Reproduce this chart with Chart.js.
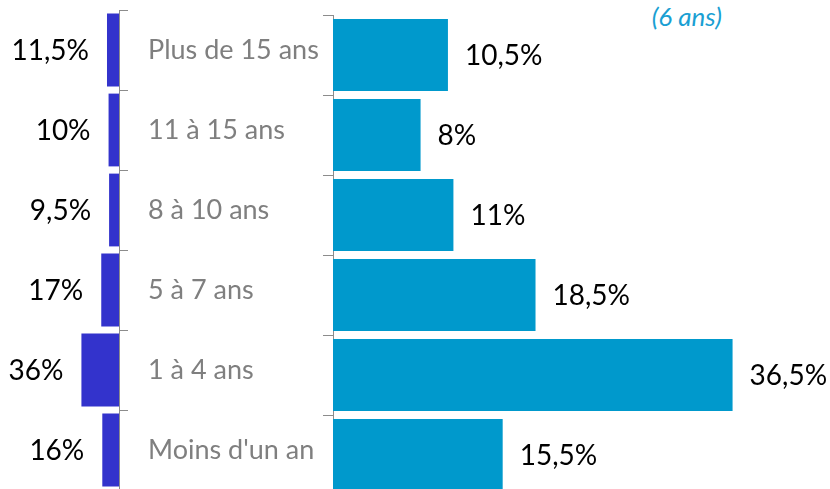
<!DOCTYPE html>
<html>
<head>
<meta charset="utf-8">
<title>Ancienneté</title>
<script src="https://cdn.jsdelivr.net/npm/chart.js"></script>
<style>
  body {
    margin: 0;
    padding: 0;
    width: 830px;
    height: 489px;
    overflow: hidden;
    background: #fff;
    position: relative;
    font-family: Lato, sans-serif;
  }
  #left { position: absolute; left: 0; top: 0; }
  #right { position: absolute; left: 323px; top: 0; }
  .note {
    position: absolute;
    right: 108px;
    top: 3px;
    font-size: 26px;
    line-height: 1;
    font-style: italic;
    color: #1a9fd3;
  }
</style>
</head>
<body>
<div class="note">(6 ans)</div>
<canvas id="left" width="330" height="500"></canvas>
<canvas id="right" width="507" height="505"></canvas>
<script>
const categories = ["Plus de 15 ans", "11 à 15 ans", "8 à 10 ans", "5 à 7 ans", "1 à 4 ans", "Moins d'un an"];
const leftValues = [11.5, 10, 9.5, 17, 36, 16];
const rightValues = [10.5, 8, 11, 18.5, 36.5, 15.5];

const fmt = (v) => String(v).replace(".", ",") + "%";

// draws the value next to the end of each bar
const valueLabels = {
  id: "valueLabels",
  afterDatasetsDraw(chart, args, opts) {
    const ctx = chart.ctx;
    const meta = chart.getDatasetMeta(0);
    const data = chart.data.datasets[0].data;
    ctx.save();
    ctx.font = "28px Lato";
    ctx.fillStyle = "#000";
    ctx.textBaseline = "middle";
    ctx.textAlign = opts.side === "left" ? "right" : "left";
    meta.data.forEach((bar, i) => {
      const x = opts.side === "left" ? bar.x - 18 : bar.x + 17;
      ctx.fillText(fmt(data[i]), x, bar.y + 1);
    });
    ctx.restore();
  }
};

new Chart(document.getElementById("left"), {
  type: "bar",
  data: {
    labels: categories,
    datasets: [{
      data: leftValues,
      backgroundColor: "#3333cc",
      barPercentage: 0.91,
      categoryPercentage: 1
    }]
  },
  options: {
    indexAxis: "y",
    responsive: false,
    animation: false,
    layout: { padding: { top: 10, bottom: 10 } },
    plugins: {
      legend: { display: false },
      tooltip: { enabled: false },
      valueLabels: { side: "left" }
    },
    scales: {
      x: { display: false, reverse: true, min: 0, max: 114 },
      y: {
        position: "right",
        afterFit: (s) => {
          s.width = 211;
          s.paddingTop = 0;
          s.paddingBottom = 0;
        },
        grid: { drawOnChartArea: false, tickLength: 9, color: "#8c8c8c" },
        border: { color: "#8c8c8c" },
        ticks: {
          padding: 20,
          color: "#7f7f7f",
          font: { family: "Lato", size: 27 }
        }
      }
    }
  },
  plugins: [valueLabels]
});

new Chart(document.getElementById("right"), {
  type: "bar",
  data: {
    labels: categories,
    datasets: [{
      data: rightValues,
      backgroundColor: "#0099cc",
      barPercentage: 0.9,
      categoryPercentage: 1
    }]
  },
  options: {
    indexAxis: "y",
    responsive: false,
    animation: false,
    layout: { padding: { top: 15, bottom: 10 } },
    plugins: {
      legend: { display: false },
      tooltip: { enabled: false },
      valueLabels: { side: "right" }
    },
    scales: {
      x: { display: false, min: 0, max: 45.4 },
      y: {
        position: "left",
        afterFit: (s) => { s.width = 10; },
        grid: { drawOnChartArea: false, tickLength: 10, color: "#8c8c8c" },
        border: { color: "#8c8c8c" },
        ticks: { display: false }
      }
    }
  },
  plugins: [valueLabels]
});
</script>
</body>
</html>
